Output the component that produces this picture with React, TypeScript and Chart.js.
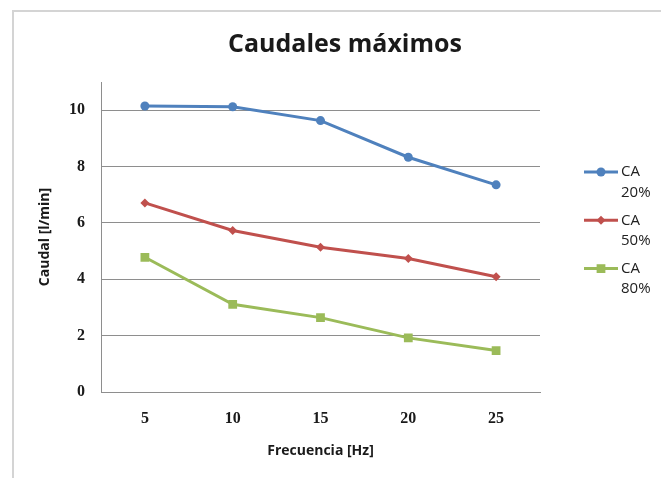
import React, { useEffect, useRef } from 'react';
import { Chart, registerables } from 'chart.js';

Chart.register(...registerables);

const frecuencias = ['5', '10', '15', '20', '25'];
const ca20 = [10.15, 10.12, 9.63, 8.33, 7.35];
const ca50 = [6.71, 5.73, 5.14, 4.74, 4.09];
const ca80 = [4.78, 3.11, 2.64, 1.92, 1.47];
const seriesLabels = [['CA', '20%'], ['CA', '50%'], ['CA', '80%']];
const yTickValues = [0, 2, 4, 6, 8, 10];
const chartTitle = 'Caudales máximos';
const xTitle = 'Frecuencia [Hz]';
const yTitle = 'Caudal [l/min]';

const BLUE = '#4F81BD';
const RED = '#C0504D';
const GREEN = '#9BBB59';
const GRID = '#8e8e8e';
const TEXT = '#1a1a1a';

function drawMarker(ctx: CanvasRenderingContext2D, style: string, x: number, y: number, r: number, color: string) {
  ctx.save();
  ctx.fillStyle = color;
  ctx.beginPath();
  if (style === 'circle') {
    ctx.arc(x, y, r, 0, Math.PI * 2);
  } else if (style === 'rectRot') {
    ctx.moveTo(x, y - r);
    ctx.lineTo(x + r, y);
    ctx.lineTo(x, y + r);
    ctx.lineTo(x - r, y);
    ctx.closePath();
  } else {
    const s = r * Math.SQRT1_2;
    ctx.rect(x - s, y - s, 2 * s, 2 * s);
  }
  ctx.fill();
  ctx.restore();
}

const decorPlugin = {
  id: 'decor',
  beforeDraw(chart: any) {
    const ctx = chart.ctx as CanvasRenderingContext2D;
    ctx.save();
    ctx.fillStyle = '#ffffff';
    ctx.fillRect(0, 0, chart.width, chart.height);
    ctx.strokeStyle = '#d4d4d4';
    ctx.lineWidth = 2;
    ctx.beginPath();
    ctx.moveTo(13, chart.height);
    ctx.lineTo(13, 11);
    ctx.lineTo(chart.width, 11);
    ctx.stroke();
    ctx.restore();
  },
  afterDraw(chart: any) {
    const ctx = chart.ctx as CanvasRenderingContext2D;
    ctx.save();
    // title
    ctx.fillStyle = TEXT;
    ctx.font = 'bold 25px "Open Sans"';
    ctx.textAlign = 'center';
    ctx.textBaseline = 'alphabetic';
    ctx.fillText(chartTitle, 345, 52);
    // legend
    ctx.font = '15px "Open Sans"';
    ctx.textAlign = 'left';
    ctx.textBaseline = 'middle';
    chart.data.datasets.forEach((ds: any, i: number) => {
      const y = 172 + i * 48.3;
      ctx.strokeStyle = ds.borderColor;
      ctx.lineWidth = 3;
      ctx.beginPath();
      ctx.moveTo(584, y);
      ctx.lineTo(618, y);
      ctx.stroke();
      drawMarker(ctx, ds.pointStyle, 601, y, ds.pointRadius, ds.pointBackgroundColor);
      ctx.fillStyle = '#222';
      const lines = seriesLabels[i];
      lines.forEach((t: string, j: number) => ctx.fillText(t, 621, y + j * 20.5));
    });
    ctx.restore();
  },
};

export default function App() {
  const ref = useRef<HTMLCanvasElement>(null);
  useEffect(() => {
    if (!ref.current) return;
    const chart = new Chart(ref.current, {
      type: 'line',
      data: {
        labels: frecuencias,
        datasets: [
          {
            label: seriesLabels[0].join(' '),
            data: ca20,
            borderColor: BLUE,
            backgroundColor: BLUE,
            pointBackgroundColor: BLUE,
            pointBorderColor: BLUE,
            pointStyle: 'circle',
            pointRadius: 4.5,
            pointBorderWidth: 0,
            borderWidth: 3,
          },
          {
            label: seriesLabels[1].join(' '),
            data: ca50,
            borderColor: RED,
            backgroundColor: RED,
            pointBackgroundColor: RED,
            pointBorderColor: RED,
            pointStyle: 'rectRot',
            pointRadius: 4.5,
            pointBorderWidth: 0,
            borderWidth: 3,
          },
          {
            label: seriesLabels[2].join(' '),
            data: ca80,
            borderColor: GREEN,
            backgroundColor: GREEN,
            pointBackgroundColor: GREEN,
            pointBorderColor: GREEN,
            pointStyle: 'rect',
            pointRadius: 6.2,
            pointBorderWidth: 0,
            borderWidth: 3,
          },
        ],
      },
      options: {
        animation: false,
        responsive: false,
        layout: { padding: { top: 82, right: 121, left: 0, bottom: 0 } },
        plugins: {
          legend: { display: false },
          title: { display: false },
          tooltip: { enabled: false },
        },
        scales: {
          x: {
            type: 'category',
            offset: true,
            grid: { display: false, drawTicks: false },
            border: { display: true, color: GRID, width: 1 },
            ticks: {
              padding: 17.5,
              color: TEXT,
              font: { family: '"Liberation Serif"', weight: 'bold', size: 16 },
            },
            title: {
              display: true,
              text: xTitle,
              color: TEXT,
              font: { family: '"Open Sans"', weight: 'bold', size: 14 },
              padding: { top: 0, bottom: 19 },
            },
            afterFit: (scale: any) => {
              scale.height = 86;
            },
          },
          y: {
            min: 0,
            max: 11,
            grid: {
              color: GRID,
              lineWidth: 1,
              drawTicks: false,
            },
            border: { display: true, color: GRID, width: 1 },
            ticks: {
              stepSize: 2,
              padding: 16,
              color: TEXT,
              font: { family: '"Liberation Serif"', weight: 'bold', size: 16 },
            },
            afterBuildTicks: (scale: any) => {
              scale.ticks = yTickValues.map((v) => ({ value: v }));
            },
            title: {
              display: true,
              text: yTitle,
              color: TEXT,
              font: { family: '"Open Sans"', weight: 'bold', size: 14 },
              padding: { top: 36.6, bottom: 0 },
            },
            afterFit: (scale: any) => {
              scale.width = 101;
            },
          },
        },
      } as any,
      plugins: [decorPlugin],
    });
    return () => chart.destroy();
  }, []);
  return (
    <div style={{ position: 'absolute', left: 0, top: 0, width: 661, height: 478 }}>
      <canvas ref={ref} width={661} height={478} style={{ display: 'block' }} />
    </div>
  );
}
